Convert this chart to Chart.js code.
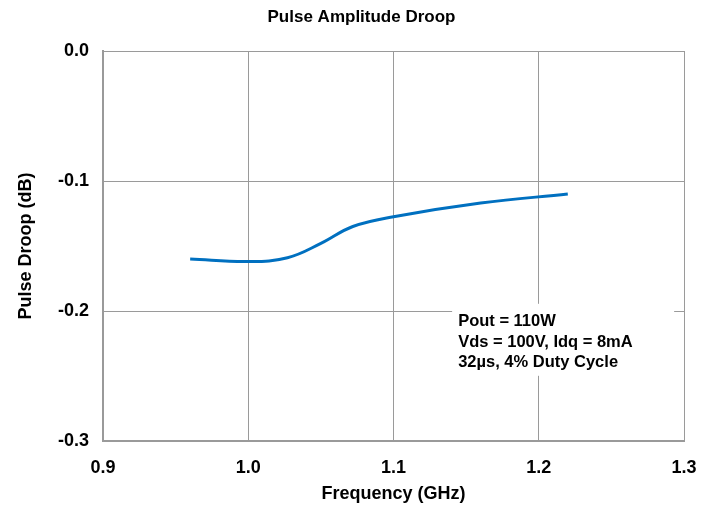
<!DOCTYPE html>
<html>
<head>
<meta charset="utf-8">
<script src="https://cdn.jsdelivr.net/npm/chart.js@4/dist/chart.umd.min.js"></script>
<style>
  html, body { margin: 0; padding: 0; background: #fff; }
  #wrap { width: 723px; height: 514px; }
</style>
</head>
<body>
<div id="wrap"><canvas id="droopChart" width="723" height="514"></canvas></div>
<script>
// values
const freqGHz = [0.960, 1.000, 1.027, 1.050, 1.072, 1.100, 1.160, 1.220];
const droopDb = [-0.160, -0.162, -0.159, -0.148, -0.135, -0.1275, -0.117, -0.110];
const xTickValues = [0.9, 1.0, 1.1, 1.2, 1.3];
const yTickValues = [0.0, -0.1, -0.2, -0.3];
const noteLines = ['Pout = 110W', 'Vds = 100V, Idq = 8mA', '32\u00b5s, 4% Duty Cycle'];

const fontFamily = '"Liberation Sans", Arial, sans-serif';
const gridColor = '#9a9a9a';

const titleAndNote = {
  id: 'titleAndNote',
  afterDraw(chart) {
    const ctx = chart.ctx;
    ctx.save();
    ctx.fillStyle = '#000';
    ctx.font = 'bold 17px ' + fontFamily;
    ctx.textAlign = 'center';
    ctx.textBaseline = 'middle';
    ctx.fillText('Pulse Amplitude Droop', chart.width / 2, 17);

    // note box over the plot
    const x = chart.scales.x.getPixelForValue(1.1445);
    const y = chart.scales.y.getPixelForValue(-0.196);
    ctx.fillStyle = '#fff';
    ctx.fillRect(x - 6, y - 2, 222, 72);
    ctx.fillStyle = '#000';
    ctx.font = 'bold 16.5px ' + fontFamily;
    ctx.textAlign = 'left';
    noteLines.forEach((line, i) => {
      ctx.fillText(line, x, y + 16 + i * 20.5);
    });
    ctx.restore();
  }
};

new Chart(document.getElementById('droopChart').getContext('2d'), {
  type: 'line',
  data: {
    datasets: [{
      data: freqGHz.map((f, i) => ({ x: f, y: droopDb[i] })),
      borderColor: '#0070c0',
      borderWidth: 3,
      pointRadius: 0,
      tension: 0.4,
      fill: false
    }]
  },
  options: {
    responsive: false,
    animation: false,
    layout: { padding: { left: 0, right: 39, top: 51, bottom: 0 } },
    plugins: {
      legend: { display: false },
      title: { display: false },
      tooltip: { enabled: false }
    },
    scales: {
      x: {
        type: 'linear',
        min: 0.9,
        max: 1.3,
        afterBuildTicks(scale) { scale.ticks = xTickValues.map(v => ({ value: v })); },
        afterFit(scale) { scale.height = 73; },
        grid: { color: gridColor, lineWidth: 1, drawTicks: false },
        border: { color: gridColor, width: 2 },
        ticks: {
          padding: 16,
          color: '#000',
          font: { family: fontFamily, size: 18, weight: 'bold' },
          callback: v => v.toFixed(1),
          maxRotation: 0
        },
        title: {
          display: true,
          text: 'Frequency (GHz)',
          color: '#000',
          font: { family: fontFamily, size: 18, weight: 'bold' },
          padding: { top: 0, bottom: 9 }
        }
      },
      y: {
        type: 'linear',
        min: -0.3,
        max: 0,
        afterBuildTicks(scale) { scale.ticks = yTickValues.map(v => ({ value: v })); },
        afterFit(scale) { scale.width = 103; },
        grid: { color: gridColor, lineWidth: 1, drawTicks: false },
        border: { color: gridColor, width: 2 },
        ticks: {
          padding: 14,
          color: '#000',
          font: { family: fontFamily, size: 18, weight: 'bold' },
          callback: v => v.toFixed(1)
        },
        title: {
          display: true,
          text: 'Pulse Droop (dB)',
          color: '#000',
          font: { family: fontFamily, size: 18, weight: 'bold' },
          padding: { top: 15, bottom: 0 }
        }
      }
    }
  },
  plugins: [titleAndNote]
});
</script>
</body>
</html>
